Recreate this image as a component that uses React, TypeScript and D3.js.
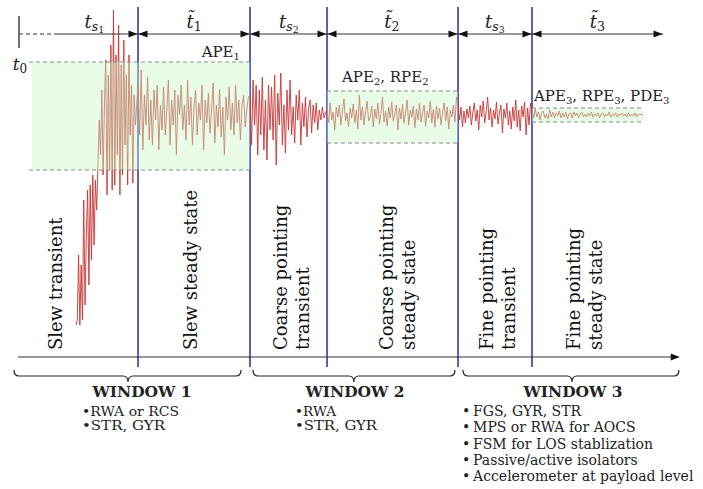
import React from "react";
import * as d3 from "d3";

const WIDTH = 703;
const HEIGHT = 489;
const FONT = "'DejaVu Serif', 'Liberation Serif', serif";

// time axis (arbitrary units) and the boundaries between the six phases
const timeDomain = [0, 100];
const phaseEdges = [18.48, 35.87, 47.83, 68.17, 79.66];
const signalStart = 8.85;
const signalEnd = 96.89;
const dashedEnd = 5.9;

// pointing error samples per phase (positive = up)
const slewTransient = [-210, -205, -140, -210, -150, -205, -85, -190, -120, -75, -170, -70, -145, -60, -130, -65, -95, -50, -5, -40, 25, -60, 10, 55, -80, 40, -55, 70, -75, 105, -70, 60, -40, 90, -80, 50, -60, 75, -30, 40, -70, 60, -20, 30, -68, 20, -10, 10];
const slewSteady = [30, -20, 45, -35, 20, -10, 38, -25, 15, -30, 25, -5, 30, -35, 10, -15, 28, -20, 5, 35, -30, 15, -10, 25, -40, 20, 0, 30, -15, 10, -25, 35, -10, 18, -30, 8, 25, -20, 12, -5, 30, -35, 15, -8, 22, -18, 5, 32, -28, 10, -12, 26, -22, 8, -40, 18, -5, 28, -15, 12, -20, 30, -8, 15, -25, 10, 20, -12, 5, 18];
const coarseTransient = [20, -30, 35, -10, 30, -40, 25, -20, 38, -35, 15, -45, 30, -15, 28, -25, 40, -50, 22, -10, 42, -30, 10, -38, 25, -15, 35, -20, 8, -28, 20, -5, 25, -30, 12, -12, 18, -22, 6, 15, -18, 10, -8, 12, -15, 5, -5, 8, -3, 2];
const coarseSteady = [5, -8, 12, -5, 3, -15, 8, -2, 10, -10, 4, 16, -6, 2, -12, 7, -3, 11, -8, 5, -14, 20, -5, 8, -10, 3, 14, -6, -2, 9, -12, 6, -4, 12, -9, 2, 18, -7, 4, -11, 8, -3, 13, -6, 1, 10, -15, 7, -4, 11, -8, 3, 15, -10, 5, -2, 9, -13, 6, -5, 12, -7, 2, 10, -11, 4, -3, 14, -8, 6, -12, 9, -4, 7, -10, 3, 12, -6, 8, -14, 5, -2, 10, -7, 18];
const fineTransient = [10, -5, 8, -12, 4, -8, 6, -3, 9, -10, 2, 12, -6, 5, -15, 10, -2, 14, -8, 3, 18, -5, 7, -12, 5, -4, 13, -9, 2, 10, -18, 6, -3, 12, -10, 4, -14, 8, -6, 15, -12, 5, -16, 9, -2, 13, -20, 7, -10, 12];
const fineSteady = [4, -3, 6, -2, 3, -5, 2, 4, -3, 1, -4, 5, -2, 3, -3, 2, -1, 4, -3, 2, -2, 3, -4, 1, 2, -3, 3, -1, 2, -3, 1, 3, -2, 1, -2, 2, -1, 3, -2, 1, -1, 2, -3, 1, 2, -2, 1, -1, 3, -2, 1, -1, 2, -2, 1, 0, 2, -1, 1, -2, 2, -1, 1, -1, 2, -2, 1, 0, 1, -1];
const segments = [slewTransient, slewSteady, coarseTransient, coarseSteady, fineTransient, fineSteady];

// error bound boxes
const boxStarts = [2.02, 47.83, 79.66];
const boxEnds = [35.87, 68.17, 96.89];
const boxLows = [-55, -28, -7];
const boxHighs = [53, 24, 7];

// duration labels above the timeline
const durBase = ["t", "t", "t", "t", "t", "t"];
const durTilde = [false, true, false, true, false, true];
const durSub = ["s", "1", "s", "2", "s", "3"];
const durSubSub = ["1", "", "2", "", "3", ""];
const durCenters = [11.7, 27.2, 41.9, 57.9, 73.9, 89.8];

// error metric labels
const metricNames = [["APE"], ["APE", "RPE"], ["APE", "RPE", "PDE"]];
const metricIdx = ["1", "2", "3"];
const metricT = [34.3, 50.16, 79.97];
const metricV = [58, 33, 14];
const metricAnchor = ["end", "start", "start"];

// phase names (rotated)
const phaseT = [6.68, 27.64, 41.61, 58.07, 73.6, 87.11];
const phaseLines = [
  ["Slew transient"],
  ["Slew steady state"],
  ["Coarse pointing", "transient"],
  ["Coarse pointing", "steady state"],
  ["Fine pointing", "transient"],
  ["Fine pointing", "steady state"],
];

// windows
const windowNames = ["WINDOW 1", "WINDOW 2", "WINDOW 3"];
const windowFrom = [-0.78, 36.34, 68.94];
const windowTo = [34.47, 67.7, 102.48];
const windowTip = [16.93, 52.0, 85.86];
const windowTextT = [19.1, 52.17, 86.02];
const windowItemT = [9.78, 42.86, 68.79];
const windowItems = [
  ["•RWA or RCS", "•STR, GYR"],
  ["•RWA", "•STR, GYR"],
  ["•\u2009FGS, GYR, STR", "•\u2009MPS or RWA for AOCS", "•\u2009FSM for LOS stablization", "•\u2009Passive/active isolators", "•\u2009Accelerometer at payload level"],
];
const windowItemWidths = [
  [97, 83],
  [41, 82],
  [0, 0, 0, 0, 0],
];
const windowItemGap = [14.3, 14.3, 16.3];
const windowItemSize = [12.2, 12.2, 14];

export default function App() {
  const x = d3.scaleLinear().domain(timeDomain).range([19, 663]);
  const y = d3.scaleLinear().domain([-100, 100]).range([215, 15]);

  const edges = [signalStart, ...phaseEdges, signalEnd];
  const pts: [number, number][] = [];
  segments.forEach((vals, s) => {
    const a = edges[s];
    const b = edges[s + 1];
    const last = s === segments.length - 1;
    const n = last ? vals.length - 1 : vals.length;
    vals.forEach((v, i) => {
      pts.push([a + ((b - a) * i) / n, v]);
    });
  });
  const line = d3.line<[number, number]>().x((d) => x(d[0])).y((d) => y(d[1]));

  const arrowY = 34;
  const axisY = 357;
  const phaseBottom = 350;
  const allEdges = [...phaseEdges];

  const head = (px: number, py: number, dir: number, key: string) => (
    <path key={key} d={`M${px},${py} L${px - dir * 9},${py - 3.5} L${px - dir * 9},${py + 3.5} Z`} fill="#111" />
  );

  const topArrows: JSX.Element[] = [];
  const tops = [dashedEnd, ...phaseEdges, timeDomain[1]];
  for (let i = 0; i < tops.length - 1; i++) {
    const a = x(tops[i]);
    const b = x(tops[i + 1]);
    topArrows.push(<line key={"tl" + i} x1={a} x2={b} y1={arrowY} y2={arrowY} stroke="#333" strokeWidth={1} />);
    if (i > 0) topArrows.push(head(a + 0.5, arrowY, -1, "hl" + i));
    topArrows.push(head(b - 0.5, arrowY, 1, "hr" + i));
  }

  const brace = (a: number, b: number, m: number) => {
    const yt = 370, ym = 376, yb = 382, r = 5;
    return `M${a},${yt} Q${a},${ym} ${a + r},${ym} L${m - r},${ym} Q${m},${ym} ${m},${yb} Q${m},${ym} ${m + r},${ym} L${b - r},${ym} Q${b},${ym} ${b},${yt}`;
  };

  return (
    <svg width={WIDTH} height={HEIGHT} style={{ position: "absolute", left: 0, top: 0, background: "#fff" }} fontFamily={FONT}>
      {/* blue phase lines */}
      {allEdges.map((t, i) => (
        <line key={"v" + i} x1={x(t)} x2={x(t)} y1={7} y2={367} stroke="#1c1c9c" strokeWidth={1.4} />
      ))}
      {/* signal */}
      <path d={line(pts) || ""} fill="none" stroke="#c83434" strokeWidth={0.9} strokeLinejoin="round" />
      {/* bound boxes */}
      {boxStarts.map((t0, i) => (
        <g key={"b" + i}>
          <rect x={x(t0)} y={y(boxHighs[i])} width={x(boxEnds[i]) - x(t0)} height={y(boxLows[i]) - y(boxHighs[i])} fill="#c8f7c8" fillOpacity={0.42} />
          <line x1={x(t0) - (i === 0 ? 3 : 0)} x2={x(boxEnds[i])} y1={y(boxHighs[i])} y2={y(boxHighs[i])} stroke="#8a8a8a" strokeDasharray="4,3" strokeWidth={1} />
          <line x1={x(t0) - (i === 0 ? 3 : 0)} x2={x(boxEnds[i])} y1={y(boxLows[i])} y2={y(boxLows[i])} stroke="#8a8a8a" strokeDasharray="4,3" strokeWidth={1} />
        </g>
      ))}
      {/* t0 marker and timeline */}
      <line x1={x(0)} x2={x(0)} y1={16} y2={48} stroke="#111" strokeWidth={1.2} />
      <line x1={x(0)} x2={x(dashedEnd)} y1={arrowY} y2={arrowY} stroke="#333" strokeWidth={1} strokeDasharray="4,3" />
      {topArrows}
      <text x={x(0) + 1} y={70} fontSize={17} fill="#222" textAnchor="middle">
        <tspan fontStyle="italic">t</tspan>
        <tspan fontSize={12} dy={3}>0</tspan>
      </text>
      {durCenters.map((c, i) => (
        <text key={"d" + i} x={x(c)} y={28} fontSize={18} fill="#222" textAnchor="middle">
          <tspan fontStyle="italic">{durTilde[i] ? durBase[i] + "\u0303" : durBase[i]}</tspan>
          <tspan fontSize={12.5} dy={3} fontStyle={durSub[i] === "s" ? "italic" : "normal"}>{durSub[i]}</tspan>
          {durSubSub[i] ? <tspan fontSize={9.5} dy={2}>{durSubSub[i]}</tspan> : null}
        </text>
      ))}
      {/* metric labels */}
      {metricNames.map((names, i) => (
        <text key={"m" + i} x={x(metricT[i])} y={y(metricV[i])} fontSize={15} fill="#222" textAnchor={metricAnchor[i]}>
          {names.map((n, j) => (
            <React.Fragment key={j}>
              <tspan dy={j > 0 ? -3 : 0}>{(j > 0 ? ", " : "") + n}</tspan>
              <tspan fontSize={10} dy={3}>{metricIdx[i]}</tspan>
            </React.Fragment>
          ))}
        </text>
      ))}
      {/* bottom axis */}
      <line x1={x(-0.16)} x2={x(102.3)} y1={axisY} y2={axisY} stroke="#333" strokeWidth={1.2} />
      {head(x(102.6), axisY, 1, "axh")}
      {/* phase names */}
      {phaseLines.map((lines, i) =>
        lines.map((s, j) => {
          const bx = x(phaseT[i]) + j * 22;
          return (
            <text key={"p" + i + j} transform={`translate(${bx},${phaseBottom}) rotate(-90)`} fontSize={18} fill="#111">
              {s}
            </text>
          );
        })
      )}
      {/* windows */}
      {windowNames.map((name, i) => (
        <g key={"w" + i}>
          <path d={brace(x(windowFrom[i]), x(windowTo[i]), x(windowTip[i]))} fill="none" stroke="#222" strokeWidth={1.2} />
          <text x={x(windowTextT[i])} y={397} fontSize={14} fontWeight="bold" textAnchor="middle" fill="#222" textLength={99} lengthAdjust="spacingAndGlyphs">
            {name}
          </text>
          {windowItems[i].map((s, j) => {
            const w = windowItemWidths[i][j];
            const extra = w ? { textLength: w, lengthAdjust: "spacingAndGlyphs" } : {};
            return (
              <text key={j} x={x(windowItemT[i])} y={416 + j * windowItemGap[i]} fontSize={windowItemSize[i]} fill="#222" {...extra}>
                {s}
              </text>
            );
          })}
        </g>
      ))}
    </svg>
  );
}
